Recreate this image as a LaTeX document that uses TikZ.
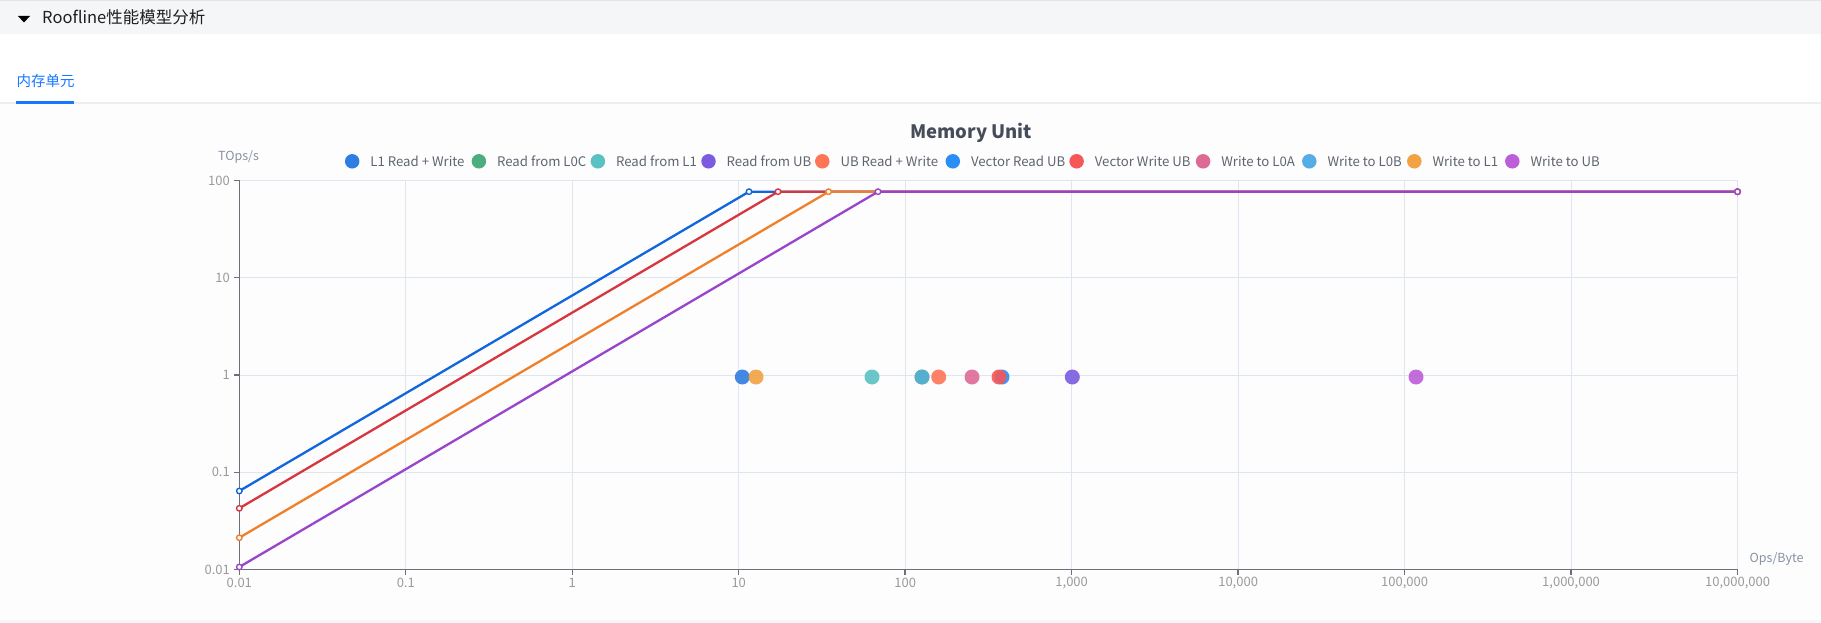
\documentclass[tikz,border=0pt]{standalone}
\usepackage{fontspec}
\setmainfont{Noto Sans CJK SC}
\definecolor{headbg}{HTML}{F5F6F8}
\definecolor{headline}{HTML}{E2E4E8}
\definecolor{tabblue}{HTML}{1677FF}
\definecolor{sepgray}{HTML}{ECEEF2}
\definecolor{chartbg}{HTML}{FDFDFE}
\definecolor{gridc}{HTML}{E0E6F1}
\definecolor{axisc}{HTML}{6E7079}
\definecolor{lblc}{HTML}{9A9A9A}
\definecolor{namec}{HTML}{8792A4}
\definecolor{legc}{HTML}{5F6570}
\definecolor{titlec}{HTML}{464C59}
\definecolor{cA}{HTML}{2F7DE1}
\definecolor{cB}{HTML}{4CAE7F}
\definecolor{cC}{HTML}{5BC2C3}
\definecolor{cD}{HTML}{7B5CE0}
\definecolor{cE}{HTML}{FF7557}
\definecolor{cF}{HTML}{2A8EF5}
\definecolor{cG}{HTML}{F65757}
\definecolor{cH}{HTML}{DD6A95}
\definecolor{cI}{HTML}{56ADE5}
\definecolor{cJ}{HTML}{F2A143}
\definecolor{cK}{HTML}{BC5ED8}
\definecolor{lBlue}{HTML}{1166DD}
\definecolor{lRed}{HTML}{D8363F}
\definecolor{lOrange}{HTML}{F07F2A}
\definecolor{lPurple}{HTML}{9A44CC}
\tikzset{
  gridline/.style={draw=gridc, line width=1.1},
  axisline/.style={draw=axisc, line width=1.4},
  ticklbl/.style={text=lblc, font=\fontsize{13}{14}\selectfont, inner sep=0},
  legtxt/.style={text=legc, font=\fontsize{13.2}{14}\selectfont, inner sep=0, anchor=west},
  legdot/.style={circle, inner sep=0, minimum size=14.5},
  roof/.style={line width=2.3, line join=round},
  mk/.style={circle, inner sep=0, minimum size=5.5, line width=1.4, fill=white},
  sdot/.style={circle, inner sep=0, minimum size=15, fill opacity=0.9}
}
\begin{document}
\begin{tikzpicture}[x=1pt,y=-1pt]
\useasboundingbox (0,0) rectangle (1821,623);
\fill[white] (0,0) rectangle (1821,623);
% header
\fill[headbg] (0,0) rectangle (1821,34);
\draw[headline, line width=1.5] (0,0.75) -- (1821,0.75);
\fill[black] (18,16) -- (30,16) -- (24,22.5) -- cycle;
\node[anchor=west, inner sep=0, font=\fontsize{16.5}{18}\selectfont, text=black!88] (hdr) at (42,17.5) {Roofline性能模型分析};
% tab
\node[anchor=west, inner sep=0, font=\fontsize{14.5}{16}\selectfont, text=tabblue] (tab) at (16.5,81) {内存单元};
\fill[chartbg] (0,103.5) rectangle (1821,620);
\draw[sepgray, line width=1.2] (0,103) -- (1821,103);
\fill[tabblue] (16,101.3) rectangle (74,103.6);
\fill[headbg] (0,620) rectangle (1821,623);
% title
\node[inner sep=0, font=\bfseries\fontsize{18.5}{20}\selectfont, text=titlec] (title) at (971,132.5) {Memory Unit};
% legend
\foreach \dx/\c/\lab [count=\i] in {352.2/cA/L1 Read + Write, 478.9/cB/Read from L0C, 597.9/cC/Read from L1, 708.5/cD/Read from UB, 822.3/cE/UB Read + Write, 952.8/cF/Vector Read UB, 1076.6/cG/Vector Write UB, 1203.1/cH/Write to L0A, 1309.3/cI/Write to L0B, 1414.3/cJ/Write to L1, 1512.3/cK/Write to UB}{
  \node[legdot, fill=\c] (ld\i) at (\dx,161.3) {};
  \node[legtxt] (lt\i) at (\dx+18,161.3) {\lab};
}
% axis names
\node[text=namec, font=\fontsize{12.5}{14}\selectfont, inner sep=0] (yname) at (238.5,157) {TOps/s};
\node[text=namec, font=\fontsize{12.5}{14}\selectfont, inner sep=0, anchor=west] (xname) at (1749.5,559) {Ops/Byte};
% grid
\foreach \k in {1,...,9}{
  \draw[gridline] (239.3+166.47*\k,180.5) -- (239.3+166.47*\k,569.6);
}
\foreach \k in {0,...,3}{
  \draw[gridline] (239.3,180.5+97.28*\k) -- (1737.5,180.5+97.28*\k);
}
% axes
\coordinate (O) at (239.3,569.6);
\coordinate (Xend) at (1737.5,569.6);
\coordinate (Yend) at (239.3,180.5);
\draw[axisline] (O) -- (Xend);
\draw[axisline] (O) -- (Yend);
\foreach \lab [count=\k from 0] in {0.01,0.1,1,10,100,{1,000},{10,000},{100,000},{1,000,000},{10,000,000}}{
  \draw[axisline] (239.3+166.47*\k,569.6) -- (239.3+166.47*\k,575);
  \node[ticklbl] (xl\k) at (239.3+166.47*\k,583) {\lab};
}
\foreach \lab [count=\k from 0] in {0.01,0.1,1,10,100}{
  \draw[axisline] (234,569.6-97.28*\k) -- (239.3,569.6-97.28*\k);
  \node[ticklbl, anchor=east] (yl\k) at (230,569.6-97.28*\k) {\lab};
}
% roofline series
\coordinate (bS) at (239.3,491);   \coordinate (bR) at (749,191.7);   \coordinate (bE) at (1737.5,191.7);
\coordinate (rS) at (239.3,508.3); \coordinate (rR) at (778,191.7);   \coordinate (rE) at (1737.5,191.7);
\coordinate (oS) at (239.3,537.7); \coordinate (oR) at (828.6,191.7); \coordinate (oE) at (1737.5,191.7);
\coordinate (pS) at (239.3,567);   \coordinate (pR) at (878,191.7);   \coordinate (pE) at (1737.5,191.7);
\draw[roof, lBlue] (bS) -- (bR) -- (bE);
\draw[roof, lRed] (rS) -- (rR) -- (rE);
\draw[roof, lOrange] (oS) -- (oR) -- (oE);
\draw[roof, lPurple] (pS) -- (pR) -- (pE);
\foreach \s/\c in {b/lBlue, r/lRed, o/lOrange, p/lPurple}{
  \node[mk, draw=\c] (\s mS) at (\s S) {};
  \node[mk, draw=\c] (\s mR) at (\s R) {};
  \node[mk, draw=\c] (\s mE) at (\s E) {};
}
% scatter points
\node[sdot, fill=cA] (p1) at (742.3,377) {};
\node[sdot, fill=cJ] (p10) at (756,377) {};
\node[sdot, fill=cC] (p3) at (872,377) {};
\node[sdot, fill=cB] (p2) at (922,377) {};
\node[sdot, fill=cI, fill opacity=0.75] (p9) at (922,377) {};
\node[sdot, fill=cE] (p5) at (938.7,377) {};
\node[sdot, fill=cH] (p8) at (972,377) {};
\node[sdot, fill=cF] (p6) at (1002,377) {};
\node[sdot, fill=cG] (p7) at (999,377) {};
\node[sdot, fill=cD] (p4) at (1072.3,377) {};
\node[sdot, fill=cK] (p11) at (1416,377) {};
\end{tikzpicture}
\end{document}
